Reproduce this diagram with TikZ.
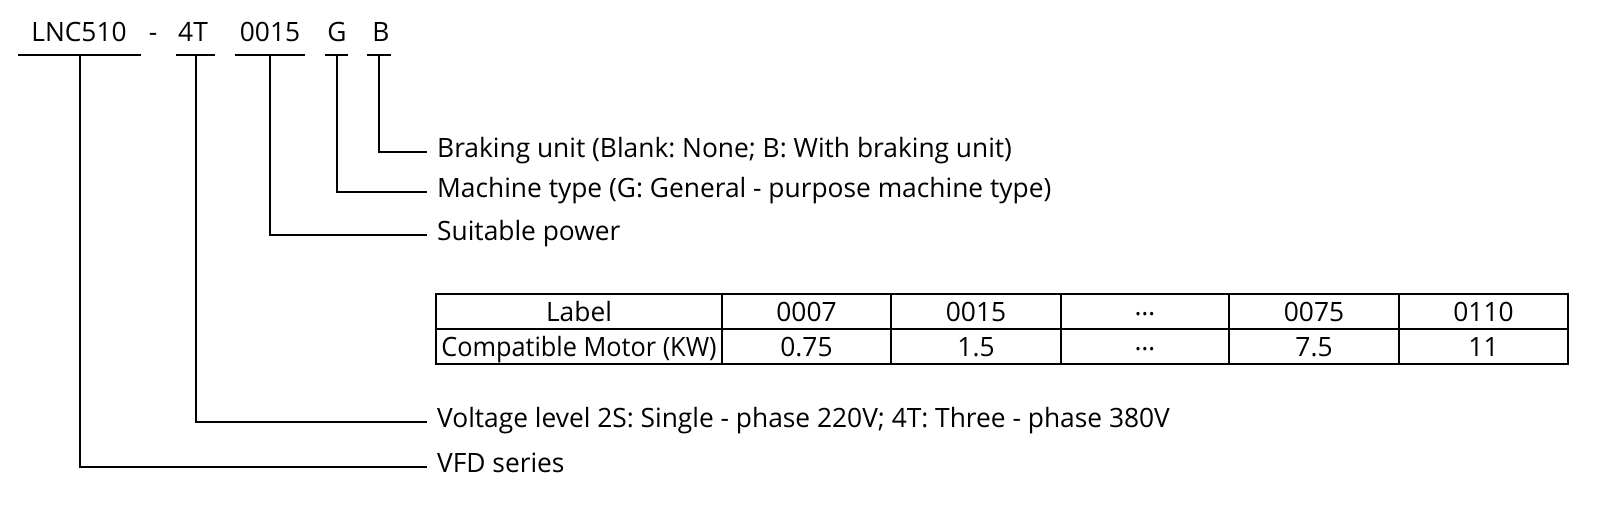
\documentclass[tikz,border=0pt]{standalone}
\usepackage{fontspec}
\usepackage{graphicx}
\setmainfont[FakeStretch=0.99]{Open Sans}
\frenchspacing
\begin{document}
\begin{tikzpicture}[x=1pt,y=-1pt,
  lbl/.style={inner sep=0pt,anchor=base west,font=\fontsize{26.6}{30}\selectfont},
  code/.style={inner sep=0pt,anchor=base,font=\fontsize{26.6}{30}\selectfont},
  cell/.style={inner sep=0pt,anchor=base,font=\fontsize{26.6}{30}\selectfont},
  ln/.style={line width=2pt,black},
  tb/.style={line width=2pt,black}]
\useasboundingbox (0,0) rectangle (1600,507);
% codes
\node[code] (lnc) at (79,41) {LNC510};
\node[code] (dash) at (153,41) {-};
\node[code] (vt) at (193,41) {4T};
\node[code] (pw) at (270,41) {0015};
\node[code] (g) at (337,41) {G};
\node[code] (b) at (381,41) {B};
% underlines
\draw[ln] (18,55) -- (141,55);
\draw[ln] (176,55) -- (215,55);
\draw[ln] (235,55) -- (305,55);
\draw[ln] (325,55) -- (348,55);
\draw[ln] (367,55) -- (391,55);
\coordinate (ulnc) at (80,55);
\coordinate (uvt) at (196,55);
\coordinate (upw) at (270,55);
\coordinate (ug) at (337,55);
\coordinate (ub) at (379,55);
% descriptions
\node[lbl] (db) at (437,157) {Braking unit (Blank: None; B: With braking unit)};
\node[lbl] (dg) at (437,197) {Machine type (G: General - purpose machine type)};
\node[lbl] (dp) at (437,240) {Suitable power};
\node[lbl] (dv) at (437,427) {Voltage level 2S: Single - phase 220V; 4T: Three - phase 380V};
\node[lbl] (dl) at (437,472) {VFD series};
\coordinate (eb) at (427,152);
\coordinate (eg) at (427,192);
\coordinate (ep) at (427,235);
\coordinate (ev) at (427,422);
\coordinate (el) at (427,467);
\draw[ln] (ub) |- (eb);
\draw[ln] (ug) |- (eg);
\draw[ln] (upw) |- (ep);
\draw[ln] (uvt) |- (ev);
\draw[ln] (ulnc) |- (el);
% table
\draw[tb] (436,294) rectangle (1568,364);
\draw[tb] (436,329) -- (1568,329);
\foreach \xx in {722,891,1061,1229,1399} \draw[tb] (\xx,294) -- (\xx,364);
\node[cell] (h0) at (579,321) {Label};
\node[cell] (h1) at (806.5,321) {0007};
\node[cell] (h2) at (976,321) {0015};
\node[cell] (h3) at (1145,321) {\raisebox{6pt}{…}};
\node[cell] (h4) at (1314,321) {0075};
\node[cell] (h5) at (1483.5,321) {0110};
\node[cell] (r0) at (579,356) {\scalebox{0.96}[1]{Compatible Motor (KW)}};
\node[cell] (r1) at (806.5,356) {0.75};
\node[cell] (r2) at (976,356) {1.5};
\node[cell] (r3) at (1145,356) {\raisebox{6pt}{…}};
\node[cell] (r4) at (1314,356) {7.5};
\node[cell] (r5) at (1483.5,356) {11};
\end{tikzpicture}
\end{document}
